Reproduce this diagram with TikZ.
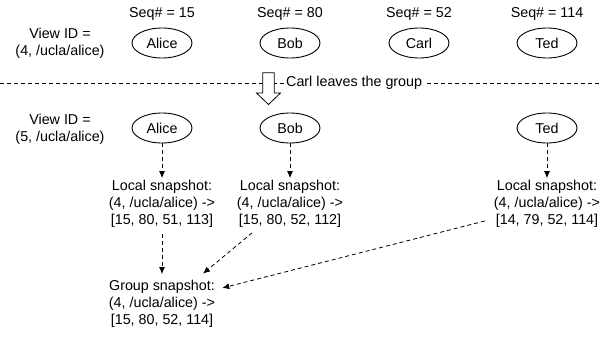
\documentclass[tikz,border=0pt]{standalone}
\usepackage{fontspec}
\setmainfont{Liberation Sans}
\usetikzlibrary{shapes.geometric,arrows.meta}

\begin{document}
\begin{tikzpicture}[x=1pt,y=-1pt,
  txt/.style={font=\fontsize{14.3}{17}\selectfont, align=center, inner sep=2pt},
  member/.style={ellipse, draw, line width=0.9pt, minimum width=60pt, minimum height=30pt, inner sep=0pt, font=\fontsize{14.3}{17}\selectfont},
  flow/.style={dashed, dash pattern=on 4pt off 3pt, line width=0.8pt, -{Latex[length=7pt,width=6pt]}},
  divider/.style={dash pattern=on 4pt off 3pt, line width=0.8pt}
]
\useasboundingbox (0,0) rectangle (602,337);

% view before the change
\node[txt] (view4) at (60,43) {View ID =\\(4, /ucla/alice)};
\node[txt] (seqA) at (162,14) {Seq\# = 15};
\node[txt] (seqB) at (290,14) {Seq\# = 80};
\node[txt] (seqC) at (419,14) {Seq\# = 52};
\node[txt] (seqT) at (547,14) {Seq\# = 114};
\node[member] (alice1) at (162,43) {Alice};
\node[member] (bob1) at (290,43) {Bob};
\node[member] (carl1) at (419,43) {Carl};
\node[member] (ted1) at (547,43) {Ted};

% membership change
\coordinate (divL) at (0,83);
\coordinate (divR) at (602,83);
\draw[divider] (divL) -- (divR);
\draw[line width=0.8pt, fill=white]
  (262.7,72.7) -- (274.3,72.7) -- (274.3,93) -- (280.5,93) -- (268.5,104.5)
  -- (256.5,93) -- (262.7,93) -- cycle;
\node[txt, fill=white, anchor=west] (leave) at (284,83) {Carl leaves the group};

% view after the change
\node[txt] (view5) at (60,129) {View ID =\\(5, /ucla/alice)};
\node[member] (alice2) at (162,128) {Alice};
\node[member] (bob2) at (290,128) {Bob};
\node[member] (ted2) at (547,128) {Ted};

\node[txt] (snapA) at (162,204) {Local snapshot:\\(4, /ucla/alice) ->\\[0pt][15, 80, 51, 113]};
\node[txt] (snapB) at (290,204) {Local snapshot:\\(4, /ucla/alice) ->\\[0pt][15, 80, 52, 112]};
\node[txt] (snapT) at (547,204) {Local snapshot:\\(4, /ucla/alice) ->\\[0pt][14, 79, 52, 114]};
\node[txt] (group) at (162,304) {Group snapshot:\\(4, /ucla/alice) ->\\[0pt][15, 80, 52, 114]};

\draw[flow] (alice2) -- (snapA);
\draw[flow] (bob2) -- (snapB);
\draw[flow] (ted2) -- (snapT);
\draw[flow, shorten <=4pt, shorten >=4pt] (snapA) -- (group);
\draw[flow] ([xshift=-38pt,yshift=-3pt]snapB.south) -- ([xshift=41pt,yshift=4.5pt]group.north);
\draw[flow] ([xshift=-7pt,yshift=-17pt]snapT.west) -- ([xshift=5pt,yshift=16pt]group.east);
\end{tikzpicture}
\end{document}
